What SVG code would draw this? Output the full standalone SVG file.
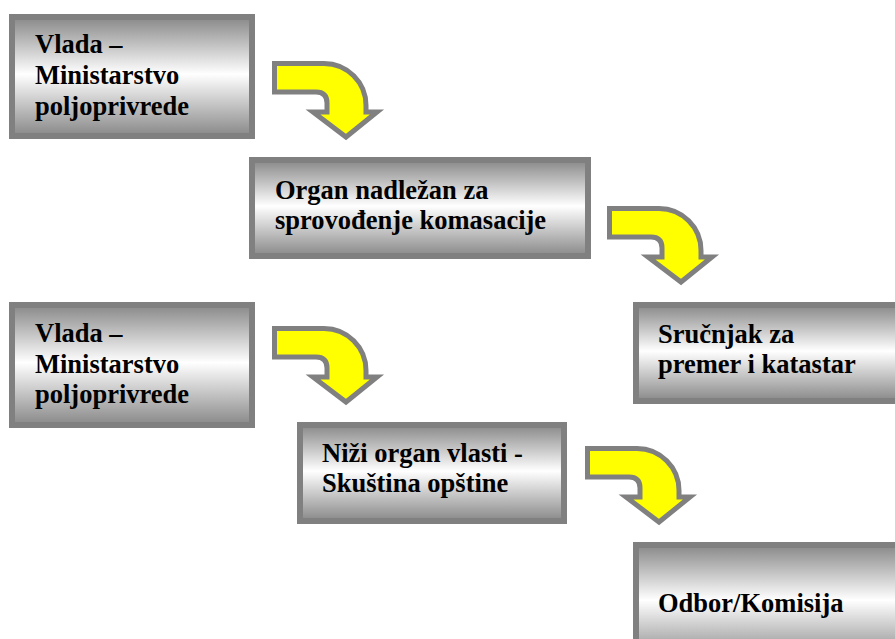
<svg xmlns="http://www.w3.org/2000/svg" xmlns:xlink="http://www.w3.org/1999/xlink" width="895" height="639" viewBox="0 0 895 639">
<style>
.box{fill:url(#g);stroke:#808080;stroke-width:6}
.t{font-family:"Liberation Serif","Times New Roman",serif;font-weight:bold;font-size:26.5px;fill:#000}
.arr{fill:#ffff00;stroke:#808080;stroke-width:5;stroke-linejoin:miter}
</style>
<defs>
<linearGradient id="g" x1="0" y1="0" x2="0" y2="1">
<stop offset="0" stop-color="#888888"/>
<stop offset="0.48" stop-color="#ffffff"/>
<stop offset="1" stop-color="#888888"/>
</linearGradient>
<path id="a" d="M2.5,2.5 H52 A42,42 0 0 1 94,44.5 V51 H105 L74,76 L41,51 H55 V42 Q55,31 44,31 H2.5 Z"/>
</defs>
<rect width="895" height="639" fill="#fff"/>
<g id="connectors">
<use xlink:href="#a" class="arr" transform="translate(272,61)"/>
<use xlink:href="#a" class="arr" transform="translate(607,206)"/>
<use xlink:href="#a" class="arr" transform="translate(272,326)"/>
<use xlink:href="#a" class="arr" transform="translate(585,446)"/>
</g>
<g id="n1">
<rect class="box" x="12" y="17" width="240" height="119"/>
<text class="t" x="35" y="53">Vlada –</text>
<text class="t" x="35" y="84">Ministarstvo</text>
<text class="t" x="35" y="115">poljoprivrede</text>
</g>
<g id="n2">
<rect class="box" x="252" y="160" width="336" height="96"/>
<text class="t" x="275" y="199">Organ nadležan za</text>
<text class="t" x="275" y="229">sprovođenje komasacije</text>
</g>
<g id="n3">
<rect class="box" x="636" y="305" width="270" height="96"/>
<text class="t" x="658" y="343">Sručnjak za</text>
<text class="t" x="658" y="373">premer i katastar</text>
</g>
<g id="n4">
<rect class="box" x="12" y="305" width="240" height="120"/>
<text class="t" x="35" y="342">Vlada –</text>
<text class="t" x="35" y="373">Ministarstvo</text>
<text class="t" x="35" y="403">poljoprivrede</text>
</g>
<g id="n5">
<rect class="box" x="300" y="425" width="264" height="96"/>
<text class="t" x="322" y="462">Niži organ vlasti -</text>
<text class="t" x="322" y="492">Skuština opštine</text>
</g>
<g id="n6">
<rect class="box" x="636" y="545" width="270" height="115"/>
<text class="t" x="658" y="612">Odbor/Komisija</text>
</g>
</svg>
